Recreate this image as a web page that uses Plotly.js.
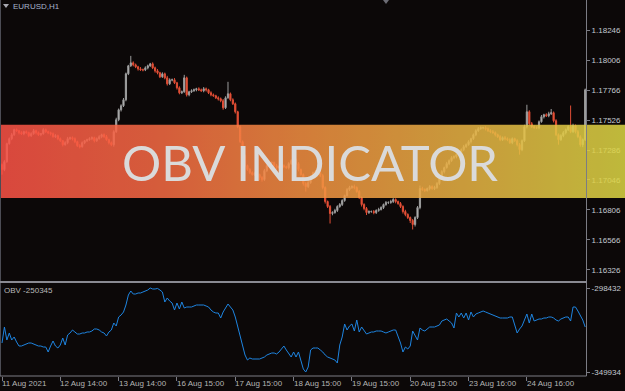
<!DOCTYPE html>
<html>
<head>
<meta charset="utf-8">
<script src="https://cdn.plot.ly/plotly-3.0.1.min.js"></script>
<style>
html,body{margin:0;padding:0;background:#0c0808;}
#chart{width:625px;height:391px;}
</style>
</head>
<body>
<div id="chart"></div>
<script>
// ---------- DATA ----------
const symbolLabel = "EURUSD,H1";
const obvLabel = "OBV -250345";
const bannerText = "OBV INDICATOR";

const firstOpen = 1.17169;
const closes = [
1.17129,1.17193,1.17337,1.17377,1.17409,1.17449,1.17441,1.17425,1.17417,1.17433,
1.17425,1.17401,1.17417,1.17441,1.17425,1.17409,1.17417,1.17449,1.17433,1.17425,
1.17417,1.17393,1.17401,1.17377,1.17361,1.17329,1.17345,1.17377,1.17385,1.17377,
1.17353,1.17321,1.17313,1.17345,1.17361,1.17369,1.17377,1.17385,1.17361,1.17377,
1.17393,1.17409,1.17393,1.17369,1.17345,1.17329,1.17433,1.17529,1.17609,1.17641,
1.17689,1.17897,1.17961,1.17985,1.17969,1.17953,1.17937,1.17929,1.17929,1.17945,
1.17961,1.17977,1.17945,1.17921,1.17905,1.17873,1.17897,1.17865,1.17817,1.17849,
1.17849,1.17825,1.17785,1.17745,1.17753,1.17865,1.17729,1.17753,1.17761,1.17769,
1.17777,1.17769,1.17761,1.17777,1.17769,1.17745,1.17729,1.17721,1.17705,1.17697,
1.17681,1.17625,1.17705,1.17737,1.17689,1.17657,1.17593,1.17473,1.17353,1.17241,
1.17161,1.17129,1.17105,1.17089,1.17097,1.17089,1.17065,1.17049,1.17121,1.17161,
1.17185,1.17185,1.17161,1.17145,1.17153,1.17161,1.17153,1.17145,1.17177,1.17201,
1.17209,1.17177,1.17129,1.17089,1.17017,1.16993,1.17025,1.17073,1.17105,1.17113,
1.17105,1.17081,1.16985,1.16873,1.16833,1.16777,1.16785,1.16801,1.16833,1.16849,
1.16881,1.16921,1.16969,1.16985,1.16993,1.16985,1.16953,1.16905,1.16849,1.16817,
1.16785,1.16793,1.16793,1.16785,1.16801,1.16809,1.16825,1.16849,1.16865,1.16865,
1.16873,1.16889,1.16873,1.16857,1.16833,1.16793,1.16769,1.16745,1.16721,1.16689,
1.16745,1.16825,1.16977,1.16969,1.16961,1.16977,1.16993,1.16977,1.16985,1.17017,
1.17073,1.17113,1.17145,1.17177,1.17201,1.17225,1.17233,1.17249,1.17265,1.17289,
1.17313,1.17329,1.17353,1.17377,1.17409,1.17441,1.17457,1.17465,1.17465,1.17457,
1.17441,1.17433,1.17425,1.17409,1.17393,1.17369,1.17385,1.17377,1.17369,1.17345,
1.17377,1.17361,1.17329,1.17289,1.17361,1.17473,1.17593,1.17497,1.17473,1.17465,
1.17465,1.17513,1.17553,1.17569,1.17561,1.17577,1.17585,1.17521,1.17409,1.17369,
1.17401,1.17425,1.17449,1.17473,1.17433,1.17481,1.17433,1.17393,1.17329,1.17369,
1.17769
];
// wick lengths beyond the body, in points (1e-5)
const wickUp = [
10,12,8,10,14,8,10,6,12,8, 10,8,12,14,8,10,6,12,10,8, 8,10,12,8,10,6,12,14,8,10,
10,8,12,10,6,8,12,10,8,10, 12,8,10,14,8,10,12,16,10,12, 14,10,8,56,12,10,8,14,10,12,
10,8,12,10,14,8,12,10,16,12, 10,14,8,12,10,24,10,8,12,10, 8,12,10,14,10,8,12,10,8,12,
10,14,12,96,10,12,10,8,12,10, 10,8,12,10,14,10,8,12,14,10, 12,10,8,14,10,12,10,8,12,10,
14,10,12,8,10,12,14,10,8,12, 10,12,14,10,8,12,10,14,10,12, 10,8,12,14,10,16,10,12,8,10,
12,10,8,12,10,14,10,8,12,10, 14,12,10,8,12,10,14,10,8,12, 10,12,24,14,10,8,12,10,14,12,
10,12,8,14,10,12,10,8,12,10, 14,10,12,8,10,12,14,10,8,12, 10,12,14,10,8,12,10,14,10,12,
10,8,12,14,10,16,56,12,14,10, 12,10,14,8,12,16,30,10,12,10, 12,14,10,12,170,16,10,14,12,10,
10
];
const wickDn = [
40,12,10,8,12,10,8,14,10,12, 8,12,10,8,14,10,12,8,10,12, 14,8,10,12,10,14,8,12,10,14,
12,10,14,8,12,10,8,12,14,10, 8,12,10,8,14,12,16,10,12,14, 10,12,10,8,12,10,14,8,12,10,
12,8,10,14,12,10,8,12,14,10, 12,10,14,12,10,8,14,12,10,8, 12,10,8,12,14,10,12,8,10,14,
12,16,10,8,12,10,14,12,10,12, 14,10,12,8,10,12,20,16,10,12, 8,10,12,14,10,8,12,10,14,10,
10,12,14,10,16,40,12,10,8,12, 10,12,14,16,12,80,14,10,12,10, 12,10,8,12,10,14,10,12,16,14,
20,12,10,14,12,10,8,12,10,12, 10,12,14,10,12,16,14,12,20,40, 16,12,14,10,12,8,14,10,12,10,
12,10,14,8,12,10,12,14,10,8, 12,10,8,14,10,12,10,8,12,14, 10,12,8,14,10,12,10,14,12,10,
12,10,14,40,12,10,14,12,10,8, 10,12,8,14,10,12,10,14,12,40, 10,12,14,10,12,10,14,12,16,20,
10
];
const obv = [
-332147,-322339,-330308,-326017,-330308,-328469,-331534,-333986,-333986,-333373,
-332760,-332147,-332147,-332760,-333373,-333986,-333986,-334599,-334599,-337664,
-333986,-330921,-333986,-335212,-333373,-329082,-333373,-327243,-326017,-324178,
-325404,-326630,-326630,-326017,-326017,-325404,-325404,-324791,-323565,-323565,
-324178,-325404,-326017,-327856,-325404,-324178,-319887,-321726,-316209,-314983,
-313144,-308853,-302723,-300271,-302110,-302110,-301497,-301497,-300884,-300271,
-299658,-298432,-299045,-299045,-298700,-299658,-300884,-307014,-304562,-306401,
-307627,-311918,-307627,-311305,-307014,-310692,-310079,-310079,-310079,-309466,
-308853,-308853,-308853,-308853,-309466,-310079,-311918,-313144,-313757,-313757,
-316822,-313144,-310692,-308240,-310079,-311918,-316209,-322339,-328469,-333986,
-339503,-342568,-341342,-341955,-341955,-341955,-341955,-341342,-340729,-339503,
-338890,-338277,-338277,-338890,-337664,-335825,-333986,-336438,-338277,-340729,
-337664,-340729,-337664,-342568,-348085,-349934,-346859,-336438,-335212,-335212,
-335212,-336438,-337664,-339503,-340729,-341342,-341955,-342568,-344407,-333373,
-328469,-320500,-324178,-321726,-320500,-324791,-318048,-325404,-322339,-324178,
-326630,-326017,-325404,-325404,-324791,-324791,-324791,-325404,-326017,-325404,
-324791,-324178,-324178,-327856,-332147,-337664,-334599,-335825,-333986,-324791,
-327856,-330308,-322952,-324178,-324791,-323565,-322339,-322339,-322339,-321726,
-321113,-318661,-318048,-317435,-318661,-319887,-322952,-313757,-316209,-313757,
-316822,-313757,-318048,-313144,-316209,-314370,-313757,-313144,-312531,-313144,
-313757,-314370,-314983,-315596,-316209,-316822,-316822,-316822,-316822,-316209,
-316209,-321113,-326017,-323565,-321726,-318048,-314370,-319887,-314370,-318661,
-318048,-317435,-317435,-316822,-316822,-316209,-316209,-316822,-318048,-318661,
-317435,-316822,-316209,-316209,-318661,-310079,-310079,-312531,-314983,-318048,
-322339
];
const priceTicks = [1.16326,1.16566,1.16806,1.17046,1.17286,1.17526,1.17766,1.18006,1.18246];
const obvTicks = [-349934,-298432];
const timeTickIdx = [0,24,48,72,96,120,144,168,192,216];
const timeTickText = ['11 Aug 2021','12 Aug 14:00','13 Aug 14:00','16 Aug 15:00','17 Aug 15:00',
                      '18 Aug 15:00','19 Aug 15:00','20 Aug 15:00','23 Aug 16:00','24 Aug 16:00'];

// ---------- BUILD ----------
const n = closes.length;
const idx = [], open = [], high = [], low = [];
for (let i = 0; i < n; i++) {
  idx.push(i);
  const o = i === 0 ? firstOpen : closes[i - 1];
  open.push(o);
  high.push(Math.max(o, closes[i]) + wickUp[i] * 1e-5);
  low.push(Math.min(o, closes[i]) - wickDn[i] * 1e-5);
}

const W = 625, H = 391, ML = 0, MR = 39, MT = 0, MB = 15;
const PW = W - ML - MR, PH = H - MT - MB;
const px = x => (x - ML) / PW;          // pixel -> paper x
const py = y => 1 - (y - MT) / PH;      // pixel -> paper y

const candle = {
  type: 'candlestick', x: idx, open: open, high: high, low: low, close: closes,
  xaxis: 'x', yaxis: 'y',
  increasing: {line: {color: '#9c9c9c', width: 1}, fillcolor: '#c8c8c8'},
  decreasing: {line: {color: '#e04e36', width: 1}, fillcolor: '#f25434'},
  whiskerwidth: 0, hoverinfo: 'skip'
};
const obvTrace = {
  type: 'scatter', mode: 'lines', x: idx, y: obv, xaxis: 'x', yaxis: 'y2',
  line: {color: '#1e84e0', width: 1}, hoverinfo: 'skip'
};

const gradSvg = "<svg xmlns='http://www.w3.org/2000/svg' width='625' height='74' viewBox='0 0 625 74' preserveAspectRatio='none'>" +
  "<defs><linearGradient id='g' x1='0' y1='0' x2='1' y2='0'>" +
  "<stop offset='0' stop-color='#fb5246'/>" +
  "<stop offset='0.25' stop-color='#f76a44'/>" +
  "<stop offset='0.5' stop-color='#f39242'/>" +
  "<stop offset='0.75' stop-color='#e8b444'/>" +
  "<stop offset='1' stop-color='#dcd644'/>" +
  "</linearGradient></defs><rect x='0' y='0' width='625' height='74' fill='url(#g)'/></svg>";

const axisCol = '#7c7c84';
const layout = {
  width: W, height: H,
  margin: {l: ML, r: MR, t: MT, b: MB, pad: 0},
  paper_bgcolor: '#0c0808', plot_bgcolor: '#0c0808',
  showlegend: false,
  font: {family: 'Liberation Sans, Arial, sans-serif', size: 8, color: '#c4c8d0'},
  xaxis: {
    range: [-0.823, 240.33], anchor: 'y2', showgrid: false, zeroline: false, showline: false,
    tickmode: 'array', tickvals: timeTickIdx, ticks: 'outside', ticklen: 4, tickwidth: 1,
    tickcolor: axisCol, showticklabels: false, rangeslider: {visible: false}, fixedrange: true
  },
  yaxis: {
    domain: [(H - MB - 281) / PH, 1], range: [1.16236, 1.18489], side: 'right', anchor: 'x',
    showgrid: false, zeroline: false, showline: false,
    tickmode: 'array', tickvals: priceTicks, ticktext: priceTicks.map(v => v.toFixed(5)),
    ticks: 'outside', ticklen: 3, tickcolor: axisCol,
    tickfont: {size: 8, color: '#c4c8d0'}
  },
  yaxis2: {
    domain: [0, 93 / PH], range: [-352376, -295367], side: 'right', anchor: 'x',
    showgrid: false, zeroline: false, showline: false,
    tickmode: 'array', tickvals: obvTicks, ticktext: obvTicks.map(v => String(v)),
    ticks: 'outside', ticklen: 3, tickcolor: axisCol,
    tickfont: {size: 8, color: '#c4c8d0'}
  },
  shapes: [
    {type: 'line', xref: 'paper', yref: 'paper', x0: px(0.5), x1: px(0.5), y0: 0, y1: 1, line: {color: '#4c4c54', width: 1}},
    {type: 'line', xref: 'paper', yref: 'paper', x0: px(586.5), x1: px(586.5), y0: 0, y1: 1, line: {color: axisCol, width: 1}},
    {type: 'line', xref: 'paper', yref: 'paper', x0: 0, x1: px(586.5), y0: py(282), y1: py(282), line: {color: '#8a8a92', width: 2}},
    {type: 'line', xref: 'paper', yref: 'paper', x0: 0, x1: px(586.5), y0: py(376), y1: py(376), line: {color: axisCol, width: 1}},
    {type: 'path', xref: 'paper', yref: 'paper', layer: 'above',
     path: `M ${px(3)} ${py(4)} L ${px(9)} ${py(4)} L ${px(6)} ${py(8)} Z`, fillcolor: '#a8a8b0', line: {width: 0}},
    {type: 'path', xref: 'paper', yref: 'paper', layer: 'above',
     path: `M ${px(383)} ${py(0)} L ${px(389)} ${py(0)} L ${px(386)} ${py(4)} Z`, fillcolor: '#6c6c74', line: {width: 0}}
  ],
  images: [{
    source: 'data:image/svg+xml;charset=utf-8,' + encodeURIComponent(gradSvg),
    xref: 'paper', yref: 'paper', x: 0, y: py(124.5), sizex: W / PW, sizey: 73.5 / PH,
    xanchor: 'left', yanchor: 'top', sizing: 'stretch', layer: 'above', opacity: 0.86
  }],
  annotations: [
    {xref: 'paper', yref: 'paper', x: px(11), y: py(6.5), xanchor: 'left', yanchor: 'middle',
     text: symbolLabel, showarrow: false, font: {size: 8, color: '#a8b4cc'}},
    {xref: 'paper', yref: 'paper', x: px(2), y: py(290), xanchor: 'left', yanchor: 'middle',
     text: obvLabel, showarrow: false, font: {size: 8, color: '#b8b8b8'}},
    {xref: 'paper', yref: 'paper', x: px(310), y: py(162), xanchor: 'center', yanchor: 'middle',
     text: bannerText, showarrow: false, font: {family: 'Lato, sans-serif', size: 49, color: '#dadada'}}
  ].concat(timeTickIdx.map((t, k) => ({
    xref: 'x', yref: 'paper', x: t, y: py(383), xanchor: 'left', yanchor: 'middle',
    text: timeTickText[k], showarrow: false, xshift: -2, font: {size: 8, color: '#b4b4b4'}
  })))
};

Plotly.newPlot('chart', [candle, obvTrace], layout, {staticPlot: true, displayModeBar: false});
</script>
</body>
</html>
